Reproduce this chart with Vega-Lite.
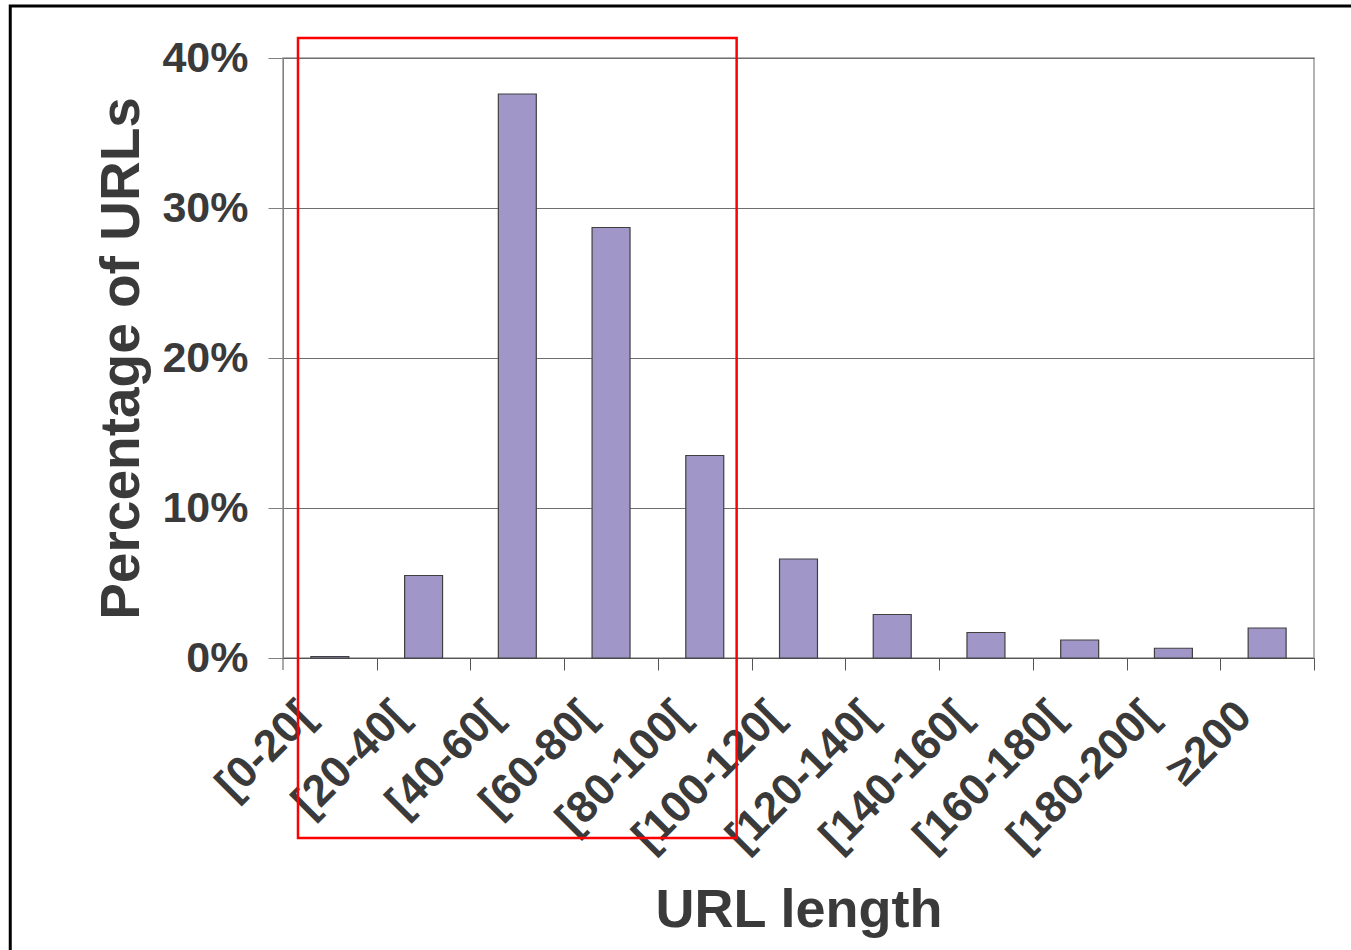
{
  "$schema": "https://vega.github.io/schema/vega-lite/v6.json",
  "width": 1031,
  "height": 600,
  "autosize": "none",
  "padding": {"left": 283, "top": 58, "right": 37, "bottom": 292},
  "background": "white",
  "config": {"view": {"stroke": "#9a9a9a", "strokeWidth": 1.5}, "font": "Liberation Sans"},
  "layer": [
    {
      "data": {"values": [
        {"range": "[0-20[", "pct": 0.1},
        {"range": "[20-40[", "pct": 5.5},
        {"range": "[40-60[", "pct": 37.6},
        {"range": "[60-80[", "pct": 28.7},
        {"range": "[80-100[", "pct": 13.5},
        {"range": "[100-120[", "pct": 6.6},
        {"range": "[120-140[", "pct": 2.9},
        {"range": "[140-160[", "pct": 1.7},
        {"range": "[160-180[", "pct": 1.2},
        {"range": "[180-200[", "pct": 0.65},
        {"range": "≥200", "pct": 2.0}
      ]},
      "mark": {"type": "bar", "fill": "#a096c8", "stroke": "#404040", "strokeWidth": 1.2},
      "encoding": {
        "x": {
          "field": "range", "type": "nominal", "sort": null,
          "scale": {"paddingInner": 0.595, "paddingOuter": 0.2975},
          "axis": {
            "title": "URL length", "labelAngle": -45, "labelAlign": "right", "labelBaseline": "middle",
            "tickOffset": 46.87, "labelOffset": -70, "tickSize": 12, "tickColor": "#555555", "domainColor": "#555555",
            "labelFont": "Liberation Sans", "labelFontSize": 44, "labelFontWeight": "bold", "labelColor": "#3a3a3a",
            "labelPadding": 39, "labelLimit": 0, "labelOverlap": false, "titleFont": "Liberation Sans", "titleFontSize": 54, "titleFontWeight": "bold",
            "titleColor": "#3a3a3a", "titlePadding": 25, "grid": false
          }
        },
        "y": {
          "field": "pct", "type": "quantitative",
          "scale": {"domain": [0, 40], "nice": false},
          "axis": {
            "title": "Percentage of URLs", "values": [0, 10, 20, 30, 40], "labelExpr": "datum.value + '%'",
            "grid": true, "gridColor": "#6e6e6e", "gridWidth": 1.2, "domainColor": "#808080", "tickColor": "#808080",
            "tickSize": 15, "labelFont": "Liberation Sans", "labelFontSize": 43, "labelFontWeight": "bold",
            "labelColor": "#3a3a3a", "labelPadding": 20, "titleFont": "Liberation Sans", "titleFontSize": 55,
            "titleFontWeight": "bold", "titleColor": "#3a3a3a", "titlePadding": 11
          }
        }
      }
    },
    {
      "data": {"values": [{"x": 0, "y1": 0, "y2": -0.8}]},
      "mark": {"type": "rule", "stroke": "#555555", "strokeWidth": 1, "clip": false},
      "encoding": {
        "x": {"field": "x", "type": "quantitative", "scale": {"domain": [0, 11], "nice": false, "zero": false}, "axis": null},
        "y": {"field": "y1", "type": "quantitative", "scale": {"domain": [0, 40], "nice": false}, "axis": null},
        "y2": {"field": "y2"}
      }
    },
    {
      "data": {"values": [{"x1": 0.16, "x2": 4.84, "y1": 41.33, "y2": -12}]},
      "mark": {"type": "rect", "fill": "transparent", "stroke": "#ff0000", "strokeWidth": 2.5, "clip": false},
      "encoding": {
        "x": {"field": "x1", "type": "quantitative", "scale": {"domain": [0, 11], "nice": false, "zero": false}, "axis": null},
        "x2": {"field": "x2"},
        "y": {"field": "y1", "type": "quantitative", "scale": {"domain": [0, 40], "nice": false}, "axis": null},
        "y2": {"field": "y2"}
      }
    },
    {
      "data": {"values": [{"x1": -2.91, "x2": 12, "y1": 43.47, "y2": -25}]},
      "mark": {"type": "rect", "fill": "transparent", "stroke": "#000000", "strokeWidth": 3, "clip": false},
      "encoding": {
        "x": {"field": "x1", "type": "quantitative", "scale": {"domain": [0, 11], "nice": false, "zero": false}, "axis": null},
        "x2": {"field": "x2"},
        "y": {"field": "y1", "type": "quantitative", "scale": {"domain": [0, 40], "nice": false}, "axis": null},
        "y2": {"field": "y2"}
      }
    }
  ],
  "resolve": {"scale": {"x": "independent"}, "axis": {"y": "independent"}}
}
